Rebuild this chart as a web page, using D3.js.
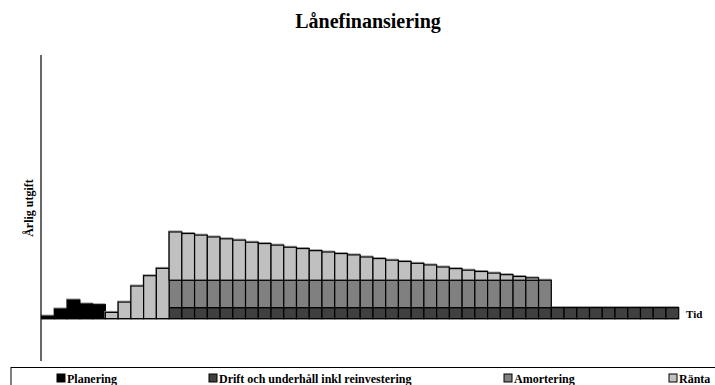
<!DOCTYPE html>
<html>
<head>
<meta charset="utf-8">
<script src="https://cdn.jsdelivr.net/npm/d3@7"></script>
<style>
  body { margin: 0; background: #fff; }
  text { font-family: "Liberation Serif", "Times New Roman", serif; font-weight: bold; }
</style>
</head>
<body>
<div id="canvas"></div>
<script>
// years 1..50
const years = d3.range(1, 51);

// values per year (arbitrary units)
const planering = [1.0, 3.7, 7.1, 5.6, 5.3];
const drift = [0, 0, 0, 0, 0, 0, 0, 0, 0, 0,
  4.2, 4.2, 4.2, 4.2, 4.2, 4.2, 4.2, 4.2, 4.2, 4.2,
  4.2, 4.2, 4.2, 4.2, 4.2, 4.2, 4.2, 4.2, 4.2, 4.2,
  4.2, 4.2, 4.2, 4.2, 4.2, 4.2, 4.2, 4.2, 4.2, 4.2,
  4.2, 4.2, 4.2, 4.2, 4.2, 4.2, 4.2, 4.2, 4.2, 4.2];
const amortering = [0, 0, 0, 0, 0, 0, 0, 0, 0, 0,
  10.4, 10.4, 10.4, 10.4, 10.4, 10.4, 10.4, 10.4, 10.4, 10.4,
  10.4, 10.4, 10.4, 10.4, 10.4, 10.4, 10.4, 10.4, 10.4, 10.4,
  10.4, 10.4, 10.4, 10.4, 10.4, 10.4, 10.4, 10.4, 10.4, 10.4,
  0, 0, 0, 0, 0, 0, 0, 0, 0, 0];
const ranta = [0, 0, 0, 0, 0, 2.4, 6.3, 12.4, 16.3, 19.1,
  18.3, 17.7, 17.1, 16.4, 15.7, 15.2, 14.4, 13.9, 13.3, 12.5,
  12.0, 11.2, 10.7, 10.1, 9.6, 8.8, 8.2, 7.6, 7.1, 6.4,
  5.8, 5.0, 4.4, 3.8, 3.3, 2.7, 2.1, 1.4, 0.9, 0,
  0, 0, 0, 0, 0, 0, 0, 0, 0, 0];

const seriesNames = ["Planering", "Drift och underhåll inkl reinvestering", "Amortering", "Ränta"];
const seriesColors = ["#000000", "#404040", "#808080", "#c0c0c0"];

const width = 715;
const height = 385;

const data = years.map((yr, i) => ({
  year: yr,
  "Planering": planering[i] || 0,
  "Drift och underhåll inkl reinvestering": drift[i],
  "Amortering": amortering[i],
  "Ränta": ranta[i]
}));

const svg = d3.select("#canvas").append("svg")
  .attr("width", width)
  .attr("height", height);

svg.append("text")
  .attr("x", 368).attr("y", 28)
  .attr("text-anchor", "middle")
  .style("font-size", "20px")
  .text("Lånefinansiering");

const x = d3.scaleBand()
  .domain(years)
  .range([41.7, 678.7])
  .padding(0);

const y = d3.scaleLinear().domain([0, 100]).range([318.7, 55]);

const stack = d3.stack().keys(seriesNames);
const layers = stack(data);

const g = svg.append("g");

layers.forEach((layer, li) => {
  const pts = layer.filter(d => d[1] - d[0] > 0);
  // light shadow
  g.append("g").selectAll("rect").data(pts).enter().append("rect")
    .attr("x", d => x(d.data.year) - 0.5)
    .attr("y", d => y(d[1]) - 1)
    .attr("width", x.bandwidth())
    .attr("height", d => y(d[0]) - y(d[1]))
    .attr("fill", "none")
    .attr("stroke", "#999")
    .attr("stroke-width", 1);
  g.append("g").selectAll("rect").data(pts).enter().append("rect")
    .attr("x", d => x(d.data.year))
    .attr("y", d => y(d[1]))
    .attr("width", x.bandwidth())
    .attr("height", d => y(d[0]) - y(d[1]))
    .attr("fill", seriesColors[li])
    .attr("stroke", "#000")
    .attr("stroke-width", 1.2);
});

// baseline and y axis
svg.append("line")
  .attr("x1", 41).attr("x2", x.range()[1])
  .attr("y1", y(0)).attr("y2", y(0))
  .attr("stroke", "#000").attr("stroke-width", 1);
svg.append("line")
  .attr("x1", 41).attr("x2", 41)
  .attr("y1", y(100)).attr("y2", y(-16))
  .attr("stroke", "#000").attr("stroke-width", 1.2);

svg.append("text")
  .attr("transform", "translate(33,208) rotate(-90)")
  .attr("text-anchor", "middle")
  .style("font-size", "12px")
  .text("Årlig utgift");

svg.append("text")
  .attr("x", 686).attr("y", 318)
  .style("font-size", "11px")
  .text("Tid");

// legend
svg.append("rect")
  .attr("x", 11).attr("y", 367.5)
  .attr("width", 720).attr("height", 30)
  .attr("fill", "none").attr("stroke", "#000").attr("stroke-width", 1);

const legendX = [57, 209, 504, 669];
const leg = svg.selectAll(".leg").data(seriesNames).enter().append("g")
  .attr("class", "leg")
  .attr("transform", (d, i) => `translate(${legendX[i]},374)`);
leg.append("rect")
  .attr("width", 8).attr("height", 8)
  .attr("fill", (d, i) => seriesColors[i])
  .attr("stroke", "#000").attr("stroke-width", 1);
leg.append("text")
  .attr("x", 10).attr("y", 8.5)
  .style("font-size", "12px")
  .text(d => d);
</script>
</body>
</html>
